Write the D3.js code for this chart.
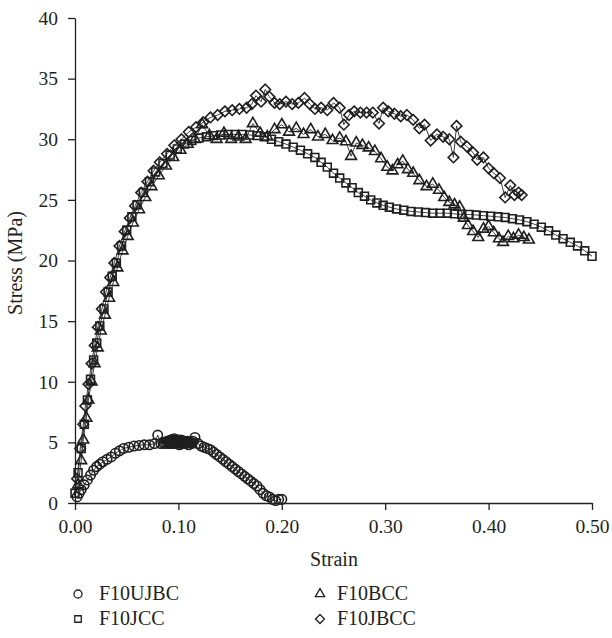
<!DOCTYPE html>
<html>
<head>
<meta charset="utf-8">
<script src="https://cdn.jsdelivr.net/npm/d3@7/dist/d3.min.js"></script>
<style>
  html, body { margin: 0; padding: 0; background: #fff; }
  svg text { font-family: "Liberation Serif", "DejaVu Serif", serif; fill: #231f20; }
</style>
</head>
<body>
<svg id="chart" width="612" height="638"></svg>
<script>
// Stress–strain records, [strain, stress (MPa)]
const F10UJBC = [
  [0.002,0.5],[0.004,0.8],[0.006,1.1],[0.009,1.5],[0.012,1.9],[0.015,2.3],[0.018,2.7],[0.021,3.0],
  [0.024,3.2],[0.027,3.4],[0.031,3.6],[0.035,3.8],[0.039,4.1],[0.043,4.3],[0.047,4.5],[0.052,4.6],
  [0.057,4.7],[0.062,4.75],[0.067,4.8],[0.072,4.8],[0.077,4.9],[0.080,5.6],[0.083,4.9],[0.085,5.0],
  [0.0865,4.9],[0.088,5.0],[0.089,5.1],[0.090,5.1],[0.0905,4.9],[0.091,4.9],[0.0915,5.0],[0.092,5.0],
  [0.0925,5.2],[0.093,5.2],[0.0935,5.0],[0.094,4.9],[0.0945,5.1],[0.095,5.0],[0.0955,5.2],[0.096,5.3],
  [0.0965,5.0],[0.097,4.9],[0.0975,5.1],[0.098,5.1],[0.0985,4.9],[0.099,5.0],[0.0995,5.1],[0.100,5.2],
  [0.1005,5.0],[0.101,4.8],[0.1015,5.0],[0.102,5.0],[0.1025,5.2],[0.103,5.1],[0.1035,4.9],[0.104,4.9],
  [0.1045,5.1],[0.105,5.0],[0.1055,5.1],[0.106,5.1],[0.1065,4.9],[0.107,4.9],[0.1075,5.0],[0.108,5.0],
  [0.1085,5.1],[0.109,5.0],[0.110,4.8],[0.111,5.0],[0.112,5.0],[0.113,4.9],[0.114,5.1],
  [0.116,5.4],[0.119,4.9],[0.122,4.7],[0.125,4.6],[0.128,4.5],[0.131,4.4],[0.134,4.2],[0.137,4.0],
  [0.140,3.8],[0.143,3.6],[0.146,3.4],[0.149,3.2],[0.152,3.0],[0.155,2.8],[0.158,2.6],[0.161,2.4],
  [0.164,2.2],[0.167,2.0],[0.170,1.8],[0.173,1.6],[0.176,1.4],[0.179,1.1],[0.182,0.8],[0.185,0.6],
  [0.188,0.5],[0.191,0.3],[0.194,0.2],[0.197,0.3],[0.200,0.3]
];

const F10JCC = [
  [0.000,0.8],[0.003,2.5],[0.006,4.5],[0.009,6.5],[0.012,8.5],[0.015,10.2],[0.018,11.8],[0.021,13.2],
  [0.024,14.6],[0.028,16.0],[0.032,17.4],[0.036,18.7],[0.040,19.8],[0.045,21.2],[0.050,22.5],[0.055,23.6],
  [0.060,24.6],[0.066,25.6],[0.072,26.5],[0.078,27.3],[0.085,28.0],[0.092,28.7],[0.099,29.2],[0.106,29.6],
  [0.113,29.9],[0.120,30.1],[0.127,30.2],[0.134,30.3],[0.141,30.35],[0.148,30.4],[0.155,30.4],[0.162,30.4],
  [0.169,30.35],[0.176,30.3],[0.183,30.2],[0.190,30.0],[0.197,29.8],[0.204,29.6],[0.211,29.35],[0.218,29.1],
  [0.225,28.8],[0.232,28.5],[0.238,28.1],[0.244,27.7],[0.250,27.2],[0.256,26.8],[0.262,26.4],[0.268,26.0],
  [0.274,25.6],[0.280,25.3],[0.286,25.0],[0.292,24.75],[0.298,24.55],[0.304,24.4],[0.311,24.25],[0.318,24.15],
  [0.325,24.05],[0.332,24.0],[0.339,23.95],[0.346,23.9],[0.353,23.9],[0.360,23.9],[0.367,23.85],[0.374,23.8],
  [0.381,23.8],[0.388,23.75],[0.395,23.7],[0.402,23.65],[0.409,23.6],[0.416,23.55],[0.423,23.45],[0.430,23.35],
  [0.437,23.2],[0.444,23.0],[0.451,22.75],[0.458,22.45],[0.465,22.1],[0.472,21.8],[0.479,21.5],[0.486,21.2],
  [0.493,20.8],[0.500,20.35]
];

const F10BCC = [
  [0.003,1.5],[0.006,3.5],[0.008,5.2],[0.011,7.0],[0.013,8.5],[0.016,10.0],[0.019,11.5],[0.022,12.8],
  [0.025,14.2],[0.029,15.5],[0.033,16.9],[0.037,18.2],[0.041,19.4],[0.046,20.8],[0.051,22.0],[0.056,23.1],
  [0.062,24.2],[0.068,25.2],[0.074,26.1],[0.081,27.0],[0.088,27.8],[0.095,28.5],[0.102,29.1],[0.109,29.6],
  [0.116,30.0],[0.123,31.2],[0.130,30.3],[0.137,30.0],[0.144,30.5],[0.151,30.0],[0.158,30.2],[0.165,30.0],
  [0.172,31.3],[0.179,30.5],[0.186,30.2],[0.193,30.8],[0.200,31.2],[0.207,30.6],[0.214,30.9],[0.221,30.4],
  [0.228,30.8],[0.235,30.2],[0.242,30.4],[0.249,29.9],[0.256,30.1],[0.262,29.8],[0.267,28.6],[0.272,29.7],
  [0.278,29.5],[0.284,29.3],[0.290,29.0],[0.296,28.4],[0.302,27.7],[0.307,27.4],[0.312,27.9],[0.317,28.2],
  [0.322,27.5],[0.327,27.2],[0.333,26.6],[0.340,26.1],[0.346,26.3],[0.352,25.8],[0.357,25.2],[0.362,24.8],
  [0.367,24.6],[0.372,24.4],[0.376,23.5],[0.380,22.9],[0.385,22.4],[0.390,21.9],[0.395,22.6],[0.400,22.8],
  [0.405,22.3],[0.410,21.8],[0.414,21.5],[0.419,22.0],[0.424,21.8],[0.429,22.1],[0.434,21.9],[0.439,21.7]
];

const F10JBCC = [
  [0.002,2.0],[0.005,4.5],[0.008,6.5],[0.010,8.0],[0.013,9.8],[0.016,11.5],[0.019,13.0],[0.022,14.5],
  [0.026,16.0],[0.030,17.4],[0.034,18.6],[0.038,19.8],[0.043,21.2],[0.048,22.4],[0.053,23.5],[0.058,24.5],
  [0.064,25.6],[0.070,26.5],[0.076,27.4],[0.082,28.1],[0.089,28.8],[0.096,29.5],[0.103,30.0],[0.110,30.6],
  [0.117,31.0],[0.124,31.4],[0.131,31.8],[0.138,32.0],[0.145,32.3],[0.152,32.4],[0.159,32.5],[0.166,32.6],
  [0.171,32.9],[0.175,33.6],[0.180,33.1],[0.184,34.1],[0.188,33.5],[0.193,33.0],[0.198,32.9],[0.204,33.1],
  [0.210,32.9],[0.216,33.0],[0.222,33.4],[0.227,32.9],[0.232,32.5],[0.238,32.6],[0.244,32.4],[0.250,33.0],
  [0.256,32.6],[0.260,31.2],[0.265,32.0],[0.270,32.3],[0.276,32.2],[0.282,32.2],[0.288,32.2],[0.294,31.3],
  [0.298,32.6],[0.303,32.3],[0.309,32.1],[0.315,31.9],[0.321,32.0],[0.327,31.6],[0.333,30.9],[0.338,31.2],
  [0.344,29.9],[0.350,30.4],[0.356,30.2],[0.362,30.0],[0.366,28.5],[0.369,31.1],[0.373,29.8],[0.379,29.4],
  [0.385,28.9],[0.389,28.3],[0.395,28.5],[0.400,27.6],[0.405,27.2],[0.411,26.8],[0.416,25.2],[0.421,26.2],
  [0.425,25.4],[0.429,25.6],[0.432,25.4]
];

const xTicks = [0, 0.1, 0.2, 0.3, 0.4, 0.5];
const yTicks = [0, 5, 10, 15, 20, 25, 30, 35, 40];
const seriesNames = ["F10UJBC", "F10JCC", "F10BCC", "F10JBCC"];

const svg = d3.select("#chart");
const ink = "#231f20";

const x = d3.scaleLinear().domain([0, 0.5]).range([75, 592]);
const y = d3.scaleLinear().domain([0, 40]).range([503, 18]);

// marker shapes
const diamondType = {
  draw(ctx, size) {
    const r = Math.sqrt(size / 2);
    ctx.moveTo(0, -r); ctx.lineTo(r, 0); ctx.lineTo(0, r); ctx.lineTo(-r, 0); ctx.closePath();
  }
};
const shapes = {
  F10UJBC: d3.symbol().type(d3.symbolCircle).size(70),
  F10JCC: d3.symbol().type(d3.symbolSquare).size(62),
  F10BCC: d3.symbol().type(d3.symbolTriangle).size(50),
  F10JBCC: d3.symbol().type(diamondType).size(56)
};
const legendShapes = {
  F10UJBC: d3.symbol().type(d3.symbolCircle).size(50),
  F10JCC: d3.symbol().type(d3.symbolSquare).size(42),
  F10BCC: d3.symbol().type(d3.symbolTriangle).size(38),
  F10JBCC: d3.symbol().type(diamondType).size(40)
};

// axes
const xAxis = svg.append("g")
  .attr("transform", `translate(0,${y(0)})`)
  .call(d3.axisBottom(x).tickValues(xTicks).tickFormat(d3.format(".2f")).tickSizeInner(7).tickSizeOuter(0).tickPadding(9));
const yAxis = svg.append("g")
  .attr("transform", `translate(${x(0)},0)`)
  .call(d3.axisLeft(y).tickValues(yTicks).tickFormat(d3.format("d")).tickSizeInner(7).tickSizeOuter(0).tickPadding(10));
[xAxis, yAxis].forEach(g => {
  g.select(".domain").attr("stroke", ink).attr("stroke-width", 1.3);
  g.selectAll(".tick line").attr("stroke", ink).attr("stroke-width", 1.3);
  g.selectAll(".tick text").attr("font-size", 19.5).attr("font-family", "Liberation Serif").attr("fill", ink);
});

svg.append("text").attr("x", 334).attr("y", 566).attr("text-anchor", "middle")
  .attr("font-size", 20).text("Strain");
svg.append("text").attr("transform", "translate(22,263) rotate(-90)").attr("text-anchor", "middle")
  .attr("font-size", 20).text("Stress (MPa)");

// series: a thin connecting line under open markers
const data = { F10UJBC, F10JCC, F10BCC, F10JBCC };
const line = d3.line().x(d => x(d[0])).y(d => y(d[1]));
const drawOrder = ["F10JCC", "F10BCC", "F10JBCC", "F10UJBC"];

drawOrder.forEach(name => {
  const g = svg.append("g");
  g.append("path").datum(data[name]).attr("d", line)
    .attr("fill", "none").attr("stroke", "#2a2a2a").attr("stroke-width", 0.9);
  g.selectAll("path.pt").data(data[name]).join("path").attr("class", "pt")
    .attr("transform", d => `translate(${x(d[0])},${y(d[1])})`)
    .attr("d", shapes[name]())
    .attr("fill", "none").attr("stroke", "#1f1f1f").attr("stroke-width", 1.6);
});

// legend
const legendPos = [
  { name: "F10UJBC", mx: 78, tx: 99, ty: 600 },
  { name: "F10BCC", mx: 320, tx: 337, ty: 600 },
  { name: "F10JCC", mx: 78, tx: 99, ty: 625 },
  { name: "F10JBCC", mx: 320, tx: 337, ty: 625 }
];
const legend = svg.append("g");
legendPos.forEach(p => {
  legend.append("path").attr("transform", `translate(${p.mx},${p.ty - 6})`)
    .attr("d", legendShapes[p.name]()).attr("fill", "none").attr("stroke", ink).attr("stroke-width", 1.3);
  legend.append("text").attr("x", p.tx).attr("y", p.ty).attr("font-size", 20).text(p.name);
});
</script>
</body>
</html>
